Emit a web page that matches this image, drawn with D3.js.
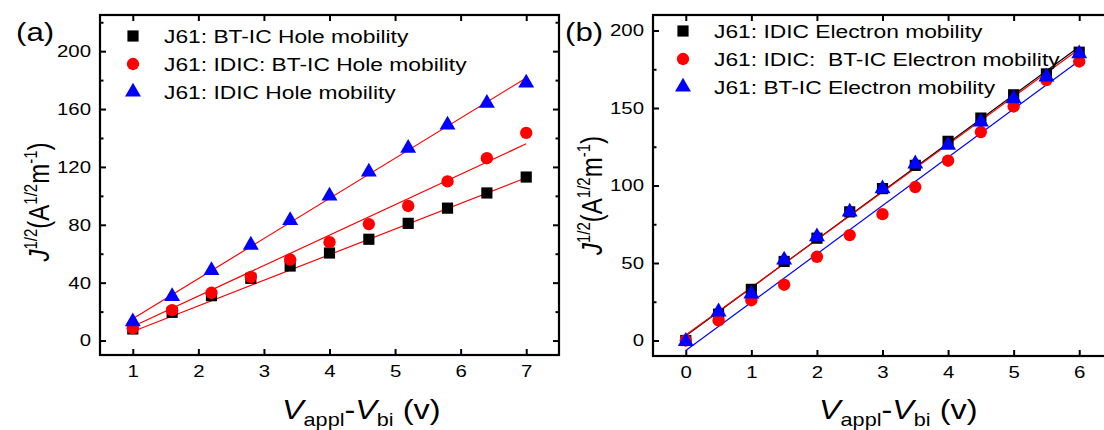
<!DOCTYPE html>
<html>
<head>
<meta charset="utf-8">
<script src="https://cdn.jsdelivr.net/npm/d3@7"></script>
<style>
  body { margin: 0; background: #fff; }
  text { font-family: "Liberation Sans", Arial, sans-serif; fill: #000; white-space: pre; }
</style>
</head>
<body>
<div id="chart"></div>
<script>
// ---- data ----
// panel (a): hole mobility
let xA = [1, 1.6, 2.2, 2.8, 3.4, 4.0, 4.6, 5.2, 5.8, 6.4, 7.0];
let holeBTIC = [8, 19.5, 31, 43, 51.5, 60.5, 70, 81, 91.5, 102, 113];
let holeBlend = [8.5, 21, 33, 44, 56, 68, 80.5, 93, 110, 126, 143.5];
let holeIDIC = [13, 30.5, 48.5, 66, 83, 100, 116.5, 133, 149, 164, 178];
// fitted lines [x0, y0, x1, y1]
let fitA = [[1, 6.2, 7, 112.5], [1, 9.7, 7, 136], [1, 15, 7, 181.5]];
let namesA = ["J61: BT-IC Hole mobility", "J61: IDIC: BT-IC Hole mobility", "J61: IDIC Hole mobility"];

// panel (b): electron mobility
let xB = [0, 0.5, 1, 1.5, 2, 2.5, 3, 3.5, 4, 4.5, 5, 5.5, 6];
let elecIDIC = [0, 17, 33, 51, 66, 83, 98, 113, 128.5, 143.5, 158.5, 172, 186];
let elecBlend = [0, 13, 26, 36, 54, 68, 81.5, 99, 116, 134.5, 151, 168, 180];
let elecBTIC = [-0.5, 18.5, 30, 52, 67, 83, 98, 114, 126, 141, 156, 170, 185];
let fitB = [[0, 3, 6, 189.5], [0, 3.5, 6, 188], [0, -6.5, 6, 180.5]];
let fitColorsB = ["#000000", "#ff0000", "#0000ff"];
let namesB = ["J61: IDIC Electron mobility", "J61: IDIC:  BT-IC Electron mobility", "J61: BT-IC Electron mobility"];

let symbols = [d3.symbolSquare, d3.symbolCircle, d3.symbolTriangle];
let symSizes = [125, 120, 110];
let colors = ["#000000", "#ff0000", "#0000ff"];

// the original figure is a bit wider than tall, text looks stretched
let SX = 1.2;

let svg = d3.select("#chart").append("svg")
    .attr("width", 1104)
    .attr("height", 430);

/**
 * Moves a text's x into a transform so it can be stretched horizontally
 */
function stretchText(sel) {
    sel.each(function() {
        let t = d3.select(this);
        let tx = +t.attr("x") || 0;
        t.attr("x", 0).attr("transform", `translate(${tx},0) scale(${SX},1)`);
    });
}

/**
 * Draws one framed panel with inward ticks, points, fit lines and legend
 */
function drawPanel(cfg) {
    let x = d3.scaleLinear().domain(cfg.xDomain).range(cfg.xRange);
    let y = d3.scaleLinear().domain(cfg.yDomain).range(cfg.yRange);
    let g = svg.append("g");

    // minor ticks (no labels) on all four sides
    let minorX = d3.range(cfg.xDomain[0] + 0.5, cfg.xDomain[1], 1).filter(v => !cfg.xTicks.includes(v));
    let minorY = cfg.yMinor;
    g.append("g").attr("transform", `translate(0,${y.range()[0]})`)
        .call(d3.axisBottom(x).tickValues(minorX).tickSize(-3.5).tickFormat(""));
    g.append("g").attr("transform", `translate(0,${y.range()[1]})`)
        .call(d3.axisTop(x).tickValues(minorX).tickSize(-3.5).tickFormat(""));
    g.append("g").attr("transform", `translate(${x.range()[0]},0)`)
        .call(d3.axisLeft(y).tickValues(minorY).tickSize(-3.5).tickFormat(""));
    g.append("g").attr("transform", `translate(${x.range()[1]},0)`)
        .call(d3.axisRight(y).tickValues(minorY).tickSize(-3.5).tickFormat(""));

    // major ticks
    g.append("g").attr("transform", `translate(0,${y.range()[0]})`)
        .call(d3.axisBottom(x).tickValues(cfg.xTicks).tickSize(-6).tickPadding(10).tickFormat(d3.format("d")));
    g.append("g").attr("transform", `translate(0,${y.range()[1]})`)
        .call(d3.axisTop(x).tickValues(cfg.xTicks).tickSize(-6).tickFormat(""));
    g.append("g").attr("transform", `translate(${x.range()[0]},0)`)
        .call(d3.axisLeft(y).tickValues(cfg.yTicks).tickSize(-6).tickPadding(9).tickFormat(d3.format("d")));
    g.append("g").attr("transform", `translate(${x.range()[1]},0)`)
        .call(d3.axisRight(y).tickValues(cfg.yTicks).tickSize(-6).tickFormat(""));

    g.selectAll(".domain").remove();
    g.selectAll(".tick line").attr("stroke", "#000").attr("stroke-width", 2);
    g.selectAll(".tick text")
        .style("font-family", '"Liberation Sans", Arial, sans-serif')
        .style("font-size", "17px")
        .attr("fill", "#000")
        .call(stretchText);

    // frame
    g.append("rect")
        .attr("x", x.range()[0])
        .attr("y", y.range()[1])
        .attr("width", x.range()[1] - x.range()[0])
        .attr("height", y.range()[0] - y.range()[1])
        .attr("fill", "none")
        .attr("stroke", "#000")
        .attr("stroke-width", 2.2);

    // fit lines
    g.selectAll(".fit").data(cfg.fits).enter()
        .append("line")
        .attr("x1", d => x(d[0]))
        .attr("y1", d => y(d[1]))
        .attr("x2", d => x(d[2]))
        .attr("y2", d => y(d[3]))
        .attr("stroke", (d, i) => cfg.fitColors[i])
        .attr("stroke-width", 1.2);

    // points, series drawn in order
    cfg.series.forEach(function(vals, i) {
        g.append("g").selectAll("path").data(vals).enter()
            .append("path")
            .attr("d", d3.symbol().type(symbols[i]).size(symSizes[i]))
            .attr("transform", (d, j) => `translate(${x(cfg.xs[j])},${y(d)})`)
            .attr("fill", colors[i]);
    });

    // legend
    let leg = g.append("g");
    cfg.names.forEach(function(name, i) {
        let ly = cfg.legY + i * 28;
        leg.append("path")
            .attr("d", d3.symbol().type(symbols[i]).size(symSizes[i]))
            .attr("transform", `translate(${cfg.legX},${ly})`)
            .attr("fill", colors[i]);
        leg.append("text")
            .attr("x", cfg.legX + 31)
            .attr("y", ly + 7)
            .style("font-size", "19px")
            .text(name)
            .call(stretchText);
    });

    // panel label
    g.append("text")
        .attr("x", cfg.labelX)
        .attr("y", 41)
        .style("font-size", "26px")
        .text(cfg.label)
        .call(stretchText);

    // x-axis title
    let xt = g.append("text")
        .attr("x", cfg.xTitleX)
        .attr("y", 419)
        .attr("text-anchor", "start")
        .style("font-size", "27px");
    xt.append("tspan").style("font-style", "italic").text("V");
    xt.append("tspan").attr("dy", 7).style("font-size", "18px").text("appl");
    xt.append("tspan").attr("dy", -7).text("-");
    xt.append("tspan").style("font-style", "italic").text("V");
    xt.append("tspan").attr("dy", 7).style("font-size", "18px").text("bi");
    xt.append("tspan").attr("dy", -7).text(" (v)");
    xt.call(stretchText);

    // y-axis title, rotated and stretched across
    let yc = (y.range()[0] + y.range()[1]) / 2 + cfg.yTitleShift;
    let yt = g.append("text")
        .attr("transform", `translate(${cfg.yTitleX},${yc}) scale(${SX},1) rotate(-90)`)
        .attr("text-anchor", "middle")
        .style("font-size", "24px");
    yt.append("tspan").style("font-style", "italic").text("J");
    yt.append("tspan").attr("dy", -10).style("font-size", "15px").text("1/2");
    yt.append("tspan").attr("dy", 10).text("(A");
    yt.append("tspan").attr("dy", -10).style("font-size", "15px").text("1/2");
    yt.append("tspan").attr("dy", 10).text("m");
    yt.append("tspan").attr("dy", -10).style("font-size", "15px").text("-1");
    yt.append("tspan").attr("dy", 10).text(")");
}

drawPanel({
    xDomain: [0.5, 7.5], xRange: [100, 559],
    yDomain: [-10, 225], yRange: [355, 15],
    xTicks: [1, 2, 3, 4, 5, 6, 7],
    yTicks: [0, 40, 80, 120, 160, 200],
    yMinor: [20, 60, 100, 140, 180, 220],
    xs: xA,
    series: [holeBTIC, holeBlend, holeIDIC],
    fits: fitA,
    fitColors: ["#ff0000", "#ff0000", "#ff0000"],
    names: namesA,
    legX: 133, legY: 36,
    label: "(a)", labelX: 16,
    xTitleX: 282,
    yTitleX: 49, yTitleShift: 17
});

drawPanel({
    xDomain: [-0.5, 6.5], xRange: [653, 1112],
    yDomain: [-10, 210], yRange: [356, 15],
    xTicks: [0, 1, 2, 3, 4, 5, 6],
    yTicks: [0, 50, 100, 150, 200],
    yMinor: [25, 75, 125, 175],
    xs: xB,
    series: [elecIDIC, elecBlend, elecBTIC],
    fits: fitB,
    fitColors: fitColorsB,
    names: namesB,
    legX: 683, legY: 31,
    label: "(b)", labelX: 565,
    xTitleX: 819,
    yTitleX: 602, yTitleShift: 10
});
</script>
</body>
</html>
